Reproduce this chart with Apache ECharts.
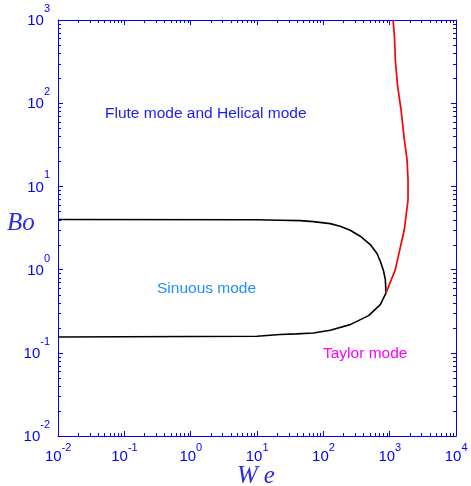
<!DOCTYPE html>
<html>
<head>
<meta charset="utf-8">
<script src="https://cdn.jsdelivr.net/npm/echarts@6/dist/echarts.min.js"></script>
<style>
  html, body { margin: 0; padding: 0; background: #fff; }
  #chart { width: 471px; height: 486px; }
</style>
</head>
<body>
<div id="chart"></div>
<script>
// Regime boundaries in the (We, Bo) plane, both axes logarithmic.

// Closed boundary of the sinuous-mode region: upper branch left -> cusp -> lower branch back left
const sinuousWe = [0.01, 10, 22.2, 44.7, 71, 127, 179, 254, 360, 510, 644, 723, 811, 860, 881,
                   723, 481, 254, 127, 71, 39.5, 22.2, 10, 0.01];
const sinuousBo = [4.0, 3.97, 3.92, 3.88, 3.77, 3.57, 3.32, 2.97, 2.52, 2.0, 1.56, 1.26, 0.955, 0.758, 0.525,
                   0.380, 0.280, 0.218, 0.187, 0.173, 0.169, 0.166, 0.158, 0.155];

// Taylor-mode boundary from the cusp up to the top of the plot
const taylorWe = [881, 1216, 1664, 1892, 1892, 1828, 1664, 1483, 1318, 1216, 1188, 1148, 1124];
const taylorBo = [0.525, 1.0, 3.03, 6.9, 12.1, 21, 36.5, 83.8, 160, 334, 581, 840, 1000];

// Axis ranges (decades)
const weRange = [0.01, 10000];
const boRange = [0.01, 1000];

// Minor tick values 2..9 x 10^k for each decade
const minorMultipliers = [2, 3, 4, 5, 6, 7, 8, 9];
const weDecades = [-2, -1, 0, 1, 2, 3];
const boDecades = [-2, -1, 0, 1, 2];

const zip = (xs, ys) => xs.map((x, i) => [x, ys[i]]);

const weMinor = [];
weDecades.forEach(k => minorMultipliers.forEach(m => weMinor.push(m * Math.pow(10, k))));
const boMinor = [];
boDecades.forEach(k => minorMultipliers.forEach(m => boMinor.push(m * Math.pow(10, k))));

const blue = '#0000ff';
const sansFont = 'Liberation Sans';
const minorLen = 3;

// "10" with a raised exponent; the tiny {h} token sets the line box height
function powLabel(v) {
  const e = Math.round(Math.log10(v));
  return '{h| }{b|10}{s|' + e + '}';
}
function powRich(lineH) {
  return {
    h: { fontSize: 1, lineHeight: lineH },
    b: { fontSize: 15, fontFamily: sansFont, color: blue, lineHeight: 15, verticalAlign: 'bottom' },
    s: { fontSize: 11, fontFamily: sansFont, color: blue, lineHeight: 10, verticalAlign: 'top' }
  };
}

const axisCommon = {
  type: 'log',
  logBase: 10,
  interval: 1,
  splitLine: { show: false },
  axisLine: { show: true, lineStyle: { color: blue, width: 1 } },
  axisTick: { show: true, inside: true, length: 5, lineStyle: { color: blue, width: 1 } },
  minorTick: { show: false }
};

// Minor ticks along the bottom and top frame edges
function renderWeMinor(params, api) {
  const cs = params.coordSys;
  const x = Math.round(api.coord([api.value(0), 1])[0]) + 0.5;
  const yb = cs.y + cs.height, yt = cs.y;
  const style = { stroke: blue, lineWidth: 1 };
  return { type: 'group', children: [
    { type: 'line', shape: { x1: x, y1: yb, x2: x, y2: yb - minorLen }, style: style },
    { type: 'line', shape: { x1: x, y1: yt, x2: x, y2: yt + minorLen }, style: style }
  ] };
}
// Minor ticks along the left and right frame edges
function renderBoMinor(params, api) {
  const cs = params.coordSys;
  const y = Math.round(api.coord([1, api.value(1)])[1]) + 0.5;
  const xl = cs.x, xr = cs.x + cs.width;
  const style = { stroke: blue, lineWidth: 1 };
  return { type: 'group', children: [
    { type: 'line', shape: { x1: xl, y1: y, x2: xl + minorLen, y2: y }, style: style },
    { type: 'line', shape: { x1: xr, y1: y, x2: xr - minorLen, y2: y }, style: style }
  ] };
}

const chart = echarts.init(document.getElementById('chart'), null, { renderer: 'canvas' });

chart.setOption({
  animation: false,
  backgroundColor: '#ffffff',
  grid: { left: 58, right: 15, top: 20, bottom: 50 },
  xAxis: [
    Object.assign({}, axisCommon, {
      position: 'bottom', min: weRange[0], max: weRange[1],
      axisLabel: { show: true, margin: 6, color: blue, formatter: powLabel, rich: powRich(22) }
    }),
    Object.assign({}, axisCommon, {
      position: 'top', min: weRange[0], max: weRange[1],
      axisLabel: { show: false }
    })
  ],
  yAxis: [
    Object.assign({}, axisCommon, {
      position: 'left', min: boRange[0], max: boRange[1],
      axisLabel: { show: true, margin: 8, color: blue, padding: [0, 0, 8, 0],
                   formatter: powLabel, rich: powRich(25) }
    }),
    Object.assign({}, axisCommon, {
      position: 'right', min: boRange[0], max: boRange[1],
      axisLabel: { show: false }
    })
  ],
  series: [
    {
      type: 'custom', silent: true, encode: { x: 0, y: 1 },
      data: weMinor.map(v => [v, 1]),
      renderItem: renderWeMinor
    },
    {
      type: 'custom', silent: true, encode: { x: 0, y: 1 },
      data: boMinor.map(v => [1, v]),
      renderItem: renderBoMinor
    },
    {
      name: 'Sinuous boundary',
      type: 'line',
      data: zip(sinuousWe, sinuousBo),
      showSymbol: false,
      lineStyle: { color: '#000000', width: 1.6 },
      z: 3
    },
    {
      name: 'Taylor boundary',
      type: 'line',
      data: zip(taylorWe, taylorBo),
      showSymbol: false,
      lineStyle: { color: '#ff0000', width: 1.7 },
      z: 4
    }
  ],
  graphic: [
    { type: 'text', left: 105, top: 106,
      style: { text: 'Flute mode and Helical mode', fill: '#1a1aff', font: '15.5px "Liberation Sans", Arial, sans-serif' } },
    { type: 'text', left: 157, top: 281,
      style: { text: 'Sinuous mode', fill: '#1e8fff', font: '15.5px "Liberation Sans", Arial, sans-serif' } },
    { type: 'text', left: 323, top: 346,
      style: { text: 'Taylor mode', fill: '#ff00ff', font: '15.5px "Liberation Sans", Arial, sans-serif' } },
    { type: 'text', left: 7, top: 211,
      style: { text: 'Bo', fill: '#2a2aee', font: 'italic 25px "Liberation Serif", "Times New Roman", serif' } },
    { type: 'text', left: 237, top: 464,
      style: { text: '{w|W}{e|e}', fill: '#2a2aee', font: 'italic 25px "Liberation Serif", "Times New Roman", serif',
               rich: { w: {}, e: { padding: [0, 0, 0, 6] } } } }
  ]
});
</script>
</body>
</html>
